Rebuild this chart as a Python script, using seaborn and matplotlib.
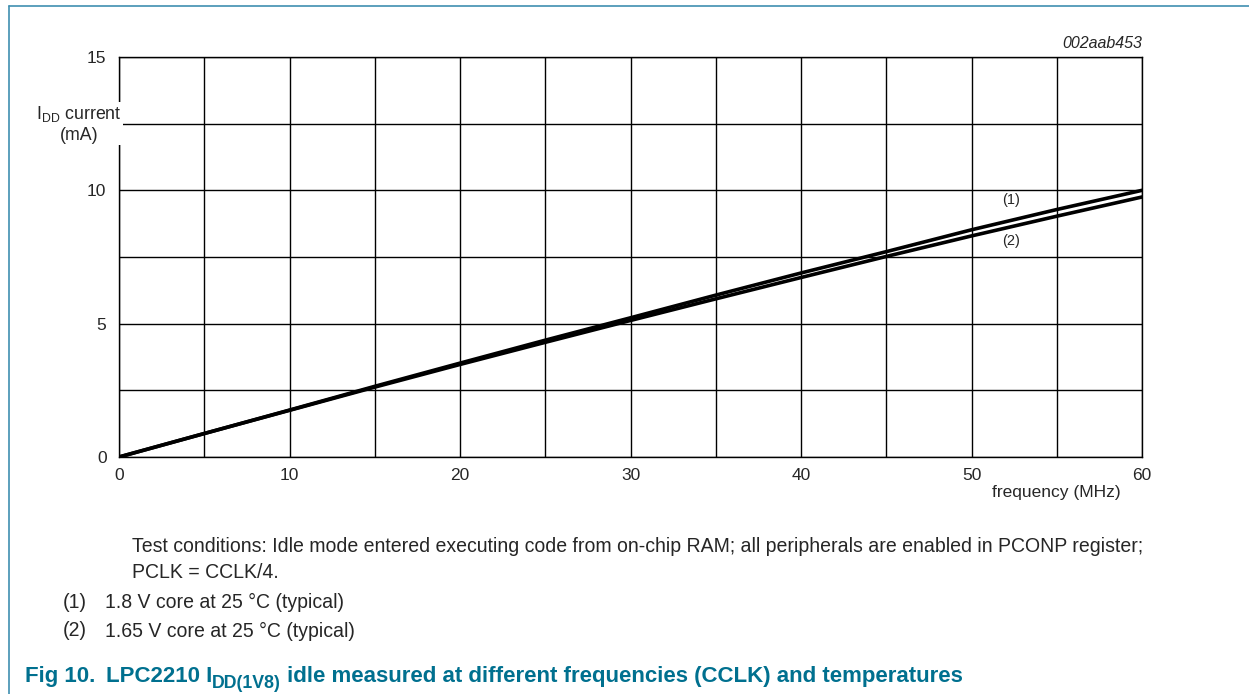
import numpy as np
import pandas as pd
import matplotlib
matplotlib.use("Agg")
import matplotlib.pyplot as plt
from matplotlib.lines import Line2D
import seaborn as sns

# data
freq_mhz = [0, 5, 10, 15, 20, 25, 30, 35, 40, 45, 50, 55, 60]
idd_18v = [0, 0.88, 1.76, 2.65, 3.52, 4.38, 5.22, 6.07, 6.90, 7.70, 8.52, 9.28, 10.0]
idd_165v = [0, 0.88, 1.75, 2.62, 3.47, 4.30, 5.12, 5.93, 6.73, 7.52, 8.29, 9.03, 9.75]
x_ticks = [0, 10, 20, 30, 40, 50, 60]
y_ticks = [0, 5, 10, 15]

df = pd.DataFrame({
    "freq": freq_mhz * 2,
    "idd": idd_18v + idd_165v,
    "curve": ["(1)"] * len(freq_mhz) + ["(2)"] * len(freq_mhz),
})

sns.set_style("white")
plt.rcParams["font.family"] = ["Liberation Sans", "DejaVu Sans"]
plt.rcParams["mathtext.fontset"] = "custom"
plt.rcParams["mathtext.rm"] = "Liberation Sans"
plt.rcParams["mathtext.it"] = "Liberation Sans:italic"
plt.rcParams["mathtext.bf"] = "Liberation Sans:bold"
plt.rcParams["mathtext.default"] = "regular"

W, H = 1249, 694
fig = plt.figure(figsize=(W / 100, H / 100), dpi=100)
ax = fig.add_axes([119 / W, 1 - 457 / H, (1142 - 119) / W, (457 - 57) / H])

sns.lineplot(data=df, x="freq", y="idd", hue="curve",
             palette=["black", "black"], linewidth=2.6, legend=False, ax=ax)

ax.set_xlim(0, 60)
ax.set_ylim(0, 15)
ax.set_xticks(np.arange(0, 61, 5), minor=True)
ax.set_yticks(np.arange(0, 15.1, 2.5), minor=True)
ax.set_xticks(x_ticks)
ax.set_yticks(y_ticks)
ax.grid(True, which="both", color="black", linewidth=1.0)
ax.tick_params(axis="both", which="both", length=0, labelsize=12.5)
ax.tick_params(axis="x", pad=8)
ax.tick_params(axis="y", pad=9)
for s in ax.spines.values():
    s.set_color("black")
    s.set_linewidth(1.0)
ax.set_xlabel("")
ax.set_ylabel("")

# curve labels
ax.text(52.3, 9.65, "(1)", fontsize=10.5, ha="center", va="center")
ax.text(52.3, 8.1, "(2)", fontsize=10.5, ha="center", va="center")

# axis titles
fig.text(79 / W, 1 - 124 / H, "I$_{DD}$ current\n(mA)", fontsize=12.8,
         ha="center", va="center", linespacing=1.2,
         bbox=dict(facecolor="white", edgecolor="none", pad=1), zorder=10)
fig.text(1056 / W, 1 - 493 / H, "frequency (MHz)", fontsize=12.5,
         ha="center", va="center")
fig.text(1142 / W, 1 - 44 / H, "002aab453", fontsize=11.5,
         style="italic", ha="right", va="center")

# notes below the chart
note_size = 14.05
fig.text(132 / W, 1 - 547 / H, "Test conditions: Idle mode entered executing code from on-chip RAM; "
         "all peripherals are enabled in PCONP register;", fontsize=note_size, va="center")
fig.text(132 / W, 1 - 572 / H, "PCLK = CCLK/4.", fontsize=note_size, va="center")
fig.text(63 / W, 1 - 602 / H, "(1)", fontsize=note_size, va="center")
fig.text(105 / W, 1 - 602 / H, "1.8 V core at 25 \u00b0C (typical)", fontsize=note_size, va="center")
fig.text(63 / W, 1 - 631 / H, "(2)", fontsize=note_size, va="center")
fig.text(105 / W, 1 - 631 / H, "1.65 V core at 25 \u00b0C (typical)", fontsize=note_size, va="center")

# figure caption, built piece by piece so the subscript keeps its size
teal = "#00708f"
renderer = fig.canvas.get_renderer()
base_y = 682
fig.text(25 / W, 1 - base_y / H, "Fig 10.", fontsize=16, fontweight="bold",
         color=teal, va="baseline")
pieces = [("LPC2210 I", 16, 0), ("DD(1V8)", 12.8, 6),
          (" idle measured at different frequencies (CCLK) and temperatures", 16, 0)]
x_px = 106
for txt, size, drop in pieces:
    t = fig.text(x_px / W, 1 - (base_y + drop) / H, txt, fontsize=size,
                 fontweight="bold", color=teal, va="baseline")
    x_px = t.get_window_extent(renderer).x1

# frame lines
fig.add_artist(Line2D([9 / W, 9 / W], [0, 1 - 6 / H], color="#3f8fb0", linewidth=1.2))
fig.add_artist(Line2D([9 / W, 1], [1 - 6 / H, 1 - 6 / H], color="#3f8fb0", linewidth=1.2))

fig.savefig("out.png", dpi=100)
